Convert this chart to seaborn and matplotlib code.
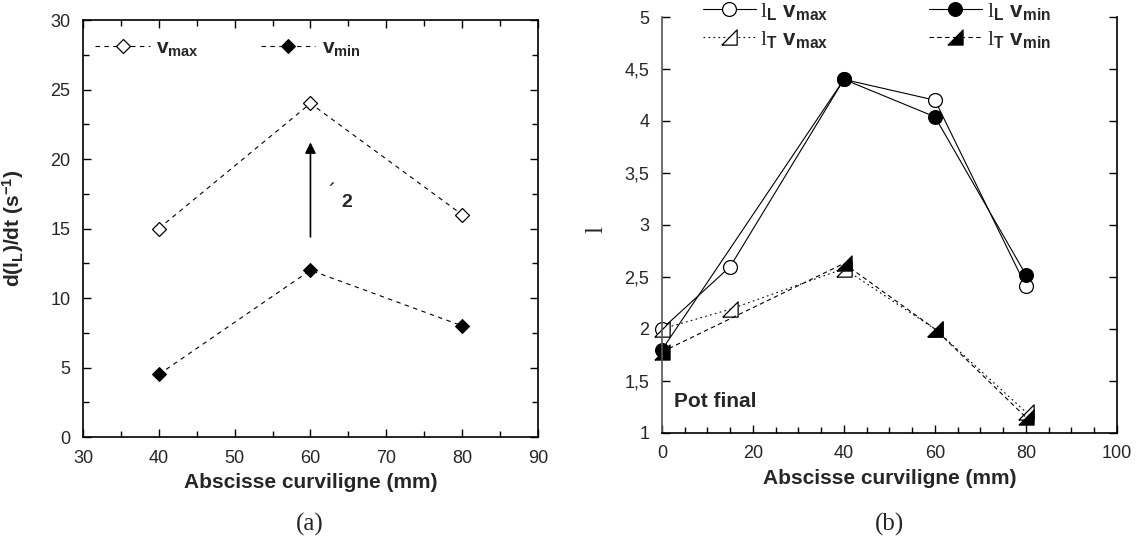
import matplotlib
matplotlib.use("Agg")
import matplotlib.pyplot as plt
from matplotlib.ticker import MultipleLocator, FuncFormatter
import seaborn as sns

# --- (a) donnees ---
abs_a = [40, 60, 80]
dldt_vmax = [15, 24, 16]
dldt_vmin = [4.5, 12, 8]

# --- (b) donnees ---
abs_L_vmax = [0, 15, 40, 60, 80]
l_L_vmax = [2.0, 2.6, 4.4, 4.2, 2.41]
abs_L_vmin = [0, 40, 60, 80]
l_L_vmin = [1.8, 4.4, 4.04, 2.52]
abs_T_vmax = [0, 15, 40, 60, 80]
l_T_vmax = [2.0, 2.19, 2.58, 2.0, 1.2]
abs_T_vmin = [0, 40, 60, 80]
l_T_vmin = [1.78, 2.63, 2.0, 1.15]

sns.set_theme(style="ticks")
plt.rcParams['font.family'] = ['Liberation Sans', 'DejaVu Sans']
plt.rcParams['mathtext.fontset'] = 'custom'
plt.rcParams['mathtext.rm'] = 'Liberation Serif'
plt.rcParams['mathtext.bf'] = 'Liberation Sans:bold'
plt.rcParams['mathtext.sf'] = 'Liberation Sans'
plt.rcParams['mathtext.it'] = 'Liberation Sans:italic'

fig = plt.figure(figsize=(11.38, 5.38), dpi=100)
ax1 = fig.add_axes([0.0729, 0.1877, 0.3998, 0.7751])
ax2 = fig.add_axes([0.5817, 0.1952, 0.3998, 0.7732])

virgule = FuncFormatter(lambda v, p: f"{v:g}".replace(".", ","))

# ---------- (a) ----------
sns.lineplot(x=abs_a, y=dldt_vmax, ax=ax1, color="black", lw=0.8, dashes=False,
             linestyle=(0, (4, 4)), marker="D", markersize=7, markerfacecolor="white",
             markeredgecolor="black", markeredgewidth=0.9, label=r"$\mathbf{v}_{\mathbf{max}}$")
sns.lineplot(x=abs_a, y=dldt_vmin, ax=ax1, color="black", lw=0.8, dashes=False,
             linestyle=(0, (4, 4)), marker="D", markersize=7, markerfacecolor="black",
             markeredgecolor="black", label=r"$\mathbf{v}_{\mathbf{min}}$")

ax1.set_xlim(30, 90)
ax1.set_ylim(0, 30)
ax1.xaxis.set_major_locator(MultipleLocator(10))
ax1.xaxis.set_minor_locator(MultipleLocator(5))
ax1.yaxis.set_major_locator(MultipleLocator(5))
ax1.yaxis.set_minor_locator(MultipleLocator(2.5))
ax1.tick_params(which="both", direction="in", top=True, right=True, labelsize=13,
                color="black", width=1, pad=9)
ax1.tick_params(which="major", length=6)
ax1.tick_params(which="minor", length=4)
for s in ax1.spines.values():
    s.set_color("black")
    s.set_linewidth(1.2)
ax1.set_xlabel("Abscisse curviligne (mm)", fontsize=15, fontweight="bold", labelpad=5)
ax1.set_ylabel(r"d(l$_\mathbf{L}$)/dt (s$^{\mathbf{-1}}$)", fontsize=15, fontweight="bold")
ax1.yaxis.set_label_coords(-0.125, 0.5)

ax1.annotate("", xy=(60, 21.4), xytext=(60, 14.2),
             arrowprops=dict(arrowstyle="-|>", color="black", lw=1.2, mutation_scale=16))
ax1.text(62.8, 17.5, "\u00b4", fontsize=16, ha="center", va="center")
ax1.text(64.8, 16.9, "2", fontsize=14, fontweight="bold", ha="center", va="center")

ax1.legend(loc="upper left", bbox_to_anchor=(0.0, 0.985), ncol=2, frameon=False,
           fontsize=15, handlelength=2.6, columnspacing=3.0, handletextpad=0.3,
           borderaxespad=0.2)

# ---------- (b) ----------
tri = [(-1, -1), (1, -1), (1, 1), (-1, -1)]
common = dict(ax=ax2, color="black", lw=0.8, dashes=False, clip_on=False)
sns.lineplot(x=abs_L_vmax, y=l_L_vmax, linestyle="-", marker="o", markersize=10,
             markerfacecolor="white", markeredgecolor="black", markeredgewidth=0.9,
             label=r"$\mathrm{l}_{\mathbf{L}}\ \mathbf{v}_{\mathbf{max}}$", sort=False, **common)
sns.lineplot(x=abs_T_vmax, y=l_T_vmax, linestyle=(0, (1.5, 3)), marker=tri, markersize=11,
             markerfacecolor="white", markeredgecolor="black", markeredgewidth=0.9,
             label=r"$\mathrm{l}_{\mathbf{T}}\ \mathbf{v}_{\mathbf{max}}$", sort=False, **common)
sns.lineplot(x=abs_L_vmin, y=l_L_vmin, linestyle="-", marker="o", markersize=10,
             markerfacecolor="black", markeredgecolor="black",
             label=r"$\mathrm{l}_{\mathbf{L}}\ \mathbf{v}_{\mathbf{min}}$", sort=False, **common)
sns.lineplot(x=abs_T_vmin, y=l_T_vmin, linestyle=(0, (4, 3)), marker=tri, markersize=11,
             markerfacecolor="black", markeredgecolor="black",
             label=r"$\mathrm{l}_{\mathbf{T}}\ \mathbf{v}_{\mathbf{min}}$", sort=False, **common)

ax2.set_xlim(0, 100)
ax2.set_ylim(1, 5)
ax2.xaxis.set_major_locator(MultipleLocator(20))
ax2.xaxis.set_minor_locator(MultipleLocator(5))
ax2.yaxis.set_major_locator(MultipleLocator(0.5))
ax2.yaxis.set_major_formatter(virgule)
ax2.tick_params(which="both", direction="in", top=False, right=True, labelsize=13,
                color="black", width=1, pad=9)
ax2.tick_params(which="major", length=6)
ax2.tick_params(which="minor", length=4)
ax2.spines["top"].set_visible(False)
for k in ["left", "right", "bottom"]:
    ax2.spines[k].set_color("black")
    ax2.spines[k].set_linewidth(1.2)
ax2.spines["left"].set_color("#555555")
ax2.set_xlabel("Abscisse curviligne (mm)", fontsize=15, fontweight="bold", labelpad=5)
ax2.set_ylabel("l", fontsize=18, family="Liberation Serif", rotation=90)
ax2.yaxis.set_label_coords(-0.12, 0.49)
ax2.text(0.027, 0.075, "Pot final", transform=ax2.transAxes, fontsize=15,
         fontweight="bold", ha="left", va="center")

ax2.legend(loc="upper left", bbox_to_anchor=(0.07, 1.06), ncol=2, frameon=False,
           fontsize=16, handlelength=2.4, columnspacing=4.5, handletextpad=0.2,
           labelspacing=0.3, borderaxespad=0.0)

fig.text(0.272, 0.026, "(a)", family="Liberation Serif", fontsize=18, ha="center", va="center")
fig.text(0.782, 0.026, "(b)", family="Liberation Serif", fontsize=18, ha="center", va="center")

fig.savefig("out.png", dpi=100, facecolor="white")
